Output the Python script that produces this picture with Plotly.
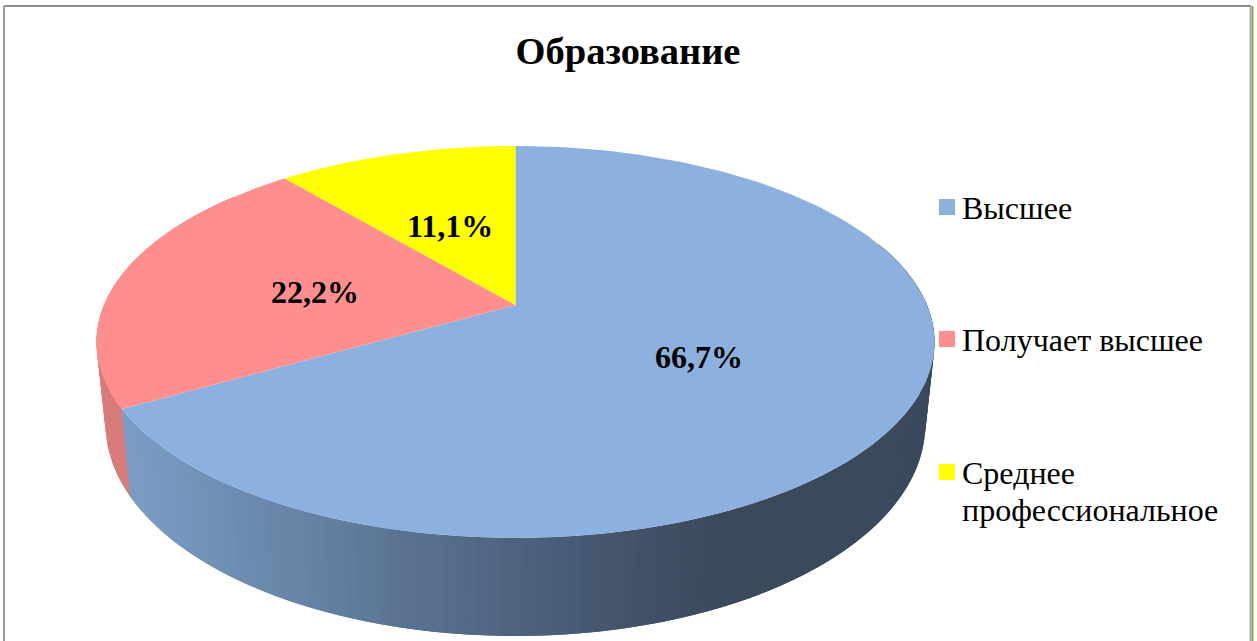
import math
import plotly.graph_objects as go

title = "Образование"
categories = ["Высшее", "Получает высшее", "Среднее<br>профессиональное"]
values = [66.7, 22.2, 11.1]
labels = ["66,7%", "22,2%", "11,1%"]
top_colors = ["#8DB1DF", "#FF8F8F", "#FFFF00"]

# perspective disc parameters (pixel space)
CX, CY = 515.5, 305
C = -0.1888
A_TOP, D_TOP = 189.0, 411.5
Y_BOT, A_BOT, S_BOT = 384.5, 204.0, 0.978
LABEL_R = [0.495, 0.5, 0.5]

def top_pt(t, r=1.0):
    u, v = r * math.sin(t), -r * math.cos(t)
    w = 1 + C * v
    return CX + D_TOP * u / w, CY + A_TOP * v / w

def bot_pt(t):
    u, v = math.sin(t), -math.cos(t)
    w = 1 + C * v
    return CX + S_BOT * D_TOP * u / w, Y_BOT + A_BOT * v / w

grad = [(130, (122, 155, 196)), (250, (108, 138, 174)), (400, (90, 114, 146)),
        (516, (78, 98, 125)), (650, (64, 80, 102)), (720, (58, 73, 92)), (940, (58, 73, 92))]

def blue_wall(x):
    for (x0, c0), (x1, c1) in zip(grad, grad[1:]):
        if x <= x1:
            f = max(0, (x - x0) / (x1 - x0))
            return "rgb(%d,%d,%d)" % tuple(round(a + (b - a) * f) for a, b in zip(c0, c1))
    return "rgb(58,73,92)"

total = sum(values)
angles = [0]
for v in values:
    angles.append(angles[-1] + v / total * 2 * math.pi)

fig = go.Figure()

def add_strip(t0, t1, col):
    ts = [t0, (t0 + t1) / 2, t1]
    p = [top_pt(t) for t in ts] + [bot_pt(t) for t in reversed(ts)]
    fig.add_trace(go.Scatter(x=[q[0] for q in p] + [p[0][0]], y=[q[1] for q in p] + [p[0][1]],
                             mode="lines", fill="toself", fillcolor=col,
                             line=dict(width=0), hoverinfo="skip", showlegend=False))

# side wall: red strips first (back to front towards the boundary), then blue
wall_start = math.radians(70)
wall_end = math.radians(310)
step = math.radians(1.3)
t = wall_end
while t > angles[1]:
    add_strip(max(angles[1], t - 2 * step), t, "#D87B7B")
    t -= step
t = wall_start
while t < angles[1]:
    t1 = min(angles[1], t + 2 * step)
    add_strip(t, t1, blue_wall(top_pt((t + t1) / 2)[0]))
    t += step

# top wedges
for i, (cat, col) in enumerate(zip(categories, top_colors)):
    a0, a1 = angles[i], angles[i + 1]
    n = max(2, int((a1 - a0) / math.radians(1)))
    pts = [(CX, CY)] + [top_pt(a0 + (a1 - a0) * k / n) for k in range(n + 1)] + [(CX, CY)]
    fig.add_trace(go.Scatter(x=[q[0] for q in pts], y=[q[1] for q in pts], mode="lines",
                             fill="toself", fillcolor=col, line=dict(width=0),
                             name=cat.replace("<br>", " "), hoverinfo="name", showlegend=False))

# data labels
annotations = []
for i, lab in enumerate(labels):
    x, y = top_pt((angles[i] + angles[i + 1]) / 2, LABEL_R[i])
    annotations.append(dict(x=x - 1, y=y + 3, text=lab, showarrow=False, xref="x", yref="y",
                            font=dict(family="Liberation Serif", size=32, color="#000000", weight="bold")))

# legend
leg_y = [207, 339, 472]
leg_text_y = [208, 340, 473]
LINE_GAP = 37
fig.add_trace(go.Scatter(x=[947] * 3, y=leg_y, mode="markers",
                         marker=dict(symbol="square", size=16, color=top_colors, line=dict(width=0)),
                         hoverinfo="skip", showlegend=False))
for cat, y in zip(categories, leg_text_y):
    for k, line in enumerate(cat.split("<br>")):
        annotations.append(dict(x=959.5, y=y + k * LINE_GAP, text=line, showarrow=False, xanchor="left",
                                yanchor="middle", align="left",
                                font=dict(family="Liberation Serif", size=32, color="#000000")))

# frame
shapes = [
    dict(type="line", x0=4, y0=6, x1=1251, y1=6, line=dict(color="#8C8C8C", width=2)),
    dict(type="line", x0=4, y0=6, x1=4, y1=641, line=dict(color="#9A9A9A", width=2)),
    dict(type="line", x0=1250.5, y0=6, x1=1250.5, y1=641, line=dict(color="#9A9A9A", width=1.5)),
    dict(type="line", x0=1252.5, y0=6, x1=1252.5, y1=641, line=dict(color="#86A85C", width=2)),
]

fig.update_layout(
    width=1257, height=641, margin=dict(l=0, r=0, t=0, b=0),
    paper_bgcolor="#FFFFFF", plot_bgcolor="#FFFFFF",
    showlegend=False, shapes=shapes, annotations=annotations,
    title=dict(text="<b>" + title + "</b>", x=628 / 1257, y=1 - 51 / 641, xanchor="center", yanchor="middle",
               font=dict(family="Liberation Serif", size=38.5, color="#000000")),
    xaxis=dict(range=[0, 1257], visible=False, fixedrange=True),
    yaxis=dict(range=[641, 0], visible=False, fixedrange=True),
)
fig.write_html("out.html", config=dict(displayModeBar=False),
               post_script="document.body.style.margin='0';document.body.style.overflow='hidden';")
